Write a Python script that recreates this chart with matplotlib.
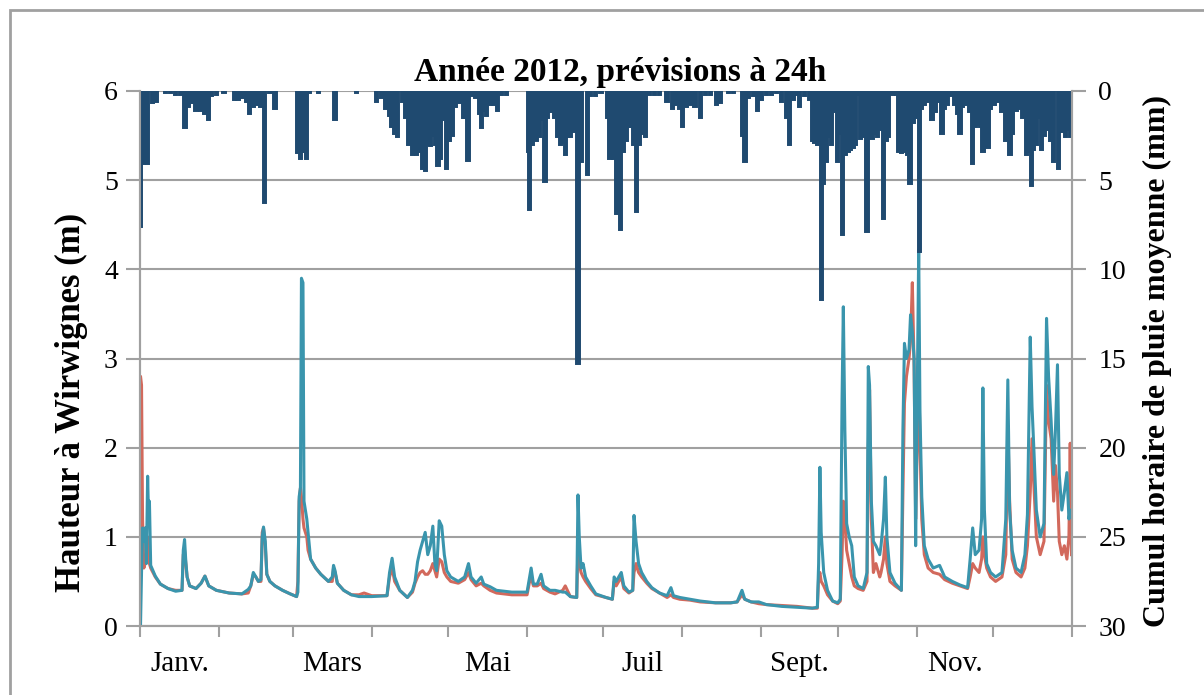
import matplotlib
matplotlib.use("Agg")
import matplotlib.pyplot as plt
from matplotlib.patches import Rectangle
import numpy as np

# day of year 2012 (0 = 1 Jan) and water level (m)
days = [0.0, 0.2, 0.6, 1.0, 1.5, 2.0, 2.5, 3.0, 3.3, 3.7, 4.2, 6.0, 8.0, 11.0, 14.0, 16.5,
        17.0, 17.5, 18.0, 18.5, 19.5, 22.0, 24.0, 25.5, 27.0, 30.0, 35.0, 40.0, 42.5, 43.5,
        44.5, 45.5, 46.5, 47.5, 48.0, 48.5, 49.2, 49.8, 51.0, 53.0, 56.0, 59.0, 61.5, 62.0,
        62.5, 63.0, 63.4, 64.0, 64.4, 65.5, 66.0, 67.0, 69.0, 71.0, 74.0, 75.5, 76.0, 76.6,
        77.5, 80.0, 83.0, 86.0, 88.0, 91.0, 97.0, 98.0, 99.0, 100.0, 102.0, 105.0, 107.0,
        108.0, 109.0, 110.0, 111.0, 112.0, 113.0, 114.0, 115.0, 115.8, 116.5, 117.5, 118.5,
        119.5, 120.5, 122.0, 125.0, 127.5, 129.0, 130.0, 132.0, 134.0, 135.0, 137.5, 140.0,
        146.0, 152.0, 153.0, 153.6, 154.5, 156.0, 157.5, 158.5, 161.0, 163.0, 166.0, 167.0,
        169.0, 171.5, 172.0, 172.5, 173.2, 174.0, 175.0, 177.0, 179.0, 183.0, 185.5, 186.2,
        187.0, 188.0, 189.0, 190.0, 192.0, 193.5, 194.0, 194.8, 195.8, 197.0, 199.0, 201.0,
        204.0, 207.0, 208.5, 209.5, 212.0, 216.0, 220.0, 226.0, 232.0, 234.5, 236.4, 237.5,
        240.0, 243.0, 246.0, 252.0, 258.0, 264.0, 266.0, 266.5, 267.0, 267.5, 268.5, 270.0,
        272.0, 274.0, 275.0, 275.7, 276.2, 276.8, 277.5, 278.5, 279.5, 280.5, 282.0, 284.0,
        285.5, 286.0, 286.5, 287.2, 288.0, 289.0, 290.5, 291.0, 292.0, 292.7, 293.3, 294.5,
        296.5, 299.0, 299.6, 300.2, 301.0, 302.0, 302.6, 303.3, 304.0, 304.6, 305.2, 305.8,
        306.3, 307.0, 308.0, 309.5, 311.5, 314.0, 316.0, 319.0, 322.0, 325.0, 326.0, 327.0,
        328.0, 329.5, 330.5, 331.0, 331.6, 332.5, 334.0, 336.0, 338.5, 340.0, 340.8, 341.5,
        342.5, 344.0, 346.0, 347.5, 348.5, 349.6, 350.3, 351.0, 352.0, 353.5, 355.0, 356.0,
        356.8, 357.8, 358.8, 359.5, 360.3, 361.0, 362.0, 363.0, 364.0, 364.8, 365.3, 365.8]

observed = [0.60, 2.80, 2.70, 1.20, 0.65, 0.70, 0.75, 1.00, 0.80, 0.70, 0.65, 0.55, 0.47, 0.42, 0.40, 0.40,
            0.80, 0.85, 0.70, 0.55, 0.45, 0.42, 0.48, 0.56, 0.45, 0.40, 0.37, 0.36, 0.37, 0.45,
            0.58, 0.55, 0.50, 0.50, 1.05, 1.10, 0.90, 0.58, 0.50, 0.45, 0.40, 0.36, 0.33, 0.50,
            1.40, 1.55, 1.45, 1.20, 1.10, 1.00, 0.85, 0.75, 0.65, 0.58, 0.50, 0.50, 0.65, 0.60,
            0.48, 0.40, 0.35, 0.35, 0.37, 0.34, 0.34, 0.55, 0.65, 0.50, 0.40, 0.32, 0.38,
            0.48, 0.55, 0.60, 0.62, 0.58, 0.58, 0.62, 0.70, 0.62, 0.55, 0.75, 0.72,
            0.60, 0.55, 0.50, 0.48, 0.52, 0.60, 0.52, 0.45, 0.48, 0.45, 0.40, 0.37,
            0.35, 0.35, 0.50, 0.55, 0.45, 0.45, 0.48, 0.42, 0.38, 0.36, 0.40, 0.45,
            0.33, 0.32, 0.90, 0.70, 0.60, 0.55, 0.50, 0.42, 0.35, 0.32, 0.30, 0.50,
            0.45, 0.50, 0.55, 0.42, 0.37, 0.40, 0.60, 0.70, 0.60, 0.55, 0.48, 0.42,
            0.37, 0.32, 0.35, 0.32, 0.30, 0.29, 0.27, 0.26, 0.26, 0.27, 0.35, 0.30,
            0.27, 0.25, 0.24, 0.23, 0.22, 0.20, 0.20, 0.55, 0.60, 0.50, 0.45, 0.35,
            0.28, 0.25, 0.28, 0.80, 1.40, 1.20, 0.85, 0.70, 0.55, 0.45, 0.42, 0.40,
            0.50, 2.00, 2.65, 1.20, 0.60, 0.70, 0.55, 0.60, 0.75, 1.00, 0.70, 0.50,
            0.45, 0.40, 1.50, 2.50, 2.80, 3.00, 3.20, 3.85, 2.90, 1.20, 2.00, 3.00,
            2.05, 1.20, 0.80, 0.65, 0.60, 0.58, 0.52, 0.48, 0.45, 0.42, 0.55, 0.70,
            0.65, 0.60, 0.75, 1.00, 0.80, 0.65, 0.55, 0.50, 0.55, 0.80, 2.25, 1.40,
            0.75, 0.60, 0.55, 0.65, 0.90, 1.50, 2.10, 1.60, 1.00, 0.80, 0.95, 2.70,
            2.30, 2.10, 1.40, 1.80, 1.50, 0.95, 0.80, 0.90, 0.75, 1.00, 2.05, 0.80]

forecast = [0.00, 0.00, 0.60, 1.10, 0.95, 1.10, 0.70, 1.68, 1.30, 1.40, 0.68, 0.56, 0.47, 0.42, 0.39, 0.40,
            0.85, 0.97, 0.72, 0.55, 0.45, 0.42, 0.48, 0.56, 0.45, 0.40, 0.37, 0.36, 0.41, 0.45,
            0.60, 0.55, 0.50, 0.52, 1.00, 1.11, 0.95, 0.58, 0.50, 0.45, 0.40, 0.36, 0.33, 0.38,
            1.45, 1.55, 3.90, 3.85, 1.40, 1.20, 1.05, 0.75, 0.65, 0.58, 0.50, 0.55, 0.68, 0.62,
            0.48, 0.40, 0.35, 0.33, 0.33, 0.33, 0.34, 0.60, 0.76, 0.55, 0.40, 0.32, 0.40,
            0.50, 0.72, 0.85, 0.95, 1.05, 0.80, 0.90, 1.12, 0.70, 0.62, 1.18, 1.12,
            0.80, 0.62, 0.55, 0.50, 0.55, 0.70, 0.55, 0.48, 0.55, 0.47, 0.44, 0.40,
            0.38, 0.38, 0.55, 0.65, 0.47, 0.47, 0.58, 0.45, 0.40, 0.40, 0.38, 0.38,
            0.33, 0.32, 1.47, 1.00, 0.65, 0.70, 0.55, 0.45, 0.36, 0.32, 0.30, 0.55,
            0.50, 0.55, 0.60, 0.45, 0.38, 0.40, 1.24, 0.95, 0.70, 0.60, 0.50, 0.43,
            0.37, 0.34, 0.43, 0.34, 0.32, 0.30, 0.28, 0.26, 0.26, 0.27, 0.40, 0.30,
            0.27, 0.27, 0.24, 0.22, 0.21, 0.20, 0.21, 0.70, 1.78, 1.05, 0.60, 0.40,
            0.28, 0.26, 0.30, 2.55, 3.58, 2.20, 1.15, 1.00, 0.90, 0.55, 0.45, 0.42,
            0.60, 2.91, 2.70, 1.40, 0.95, 0.90, 0.80, 0.90, 1.20, 1.67, 1.00, 0.60,
            0.48, 0.40, 2.20, 3.17, 3.00, 3.10, 3.49, 3.30, 3.00, 0.90, 2.50, 4.22,
            2.40, 1.45, 0.90, 0.75, 0.65, 0.68, 0.55, 0.50, 0.46, 0.43, 0.75, 1.10,
            0.80, 0.85, 1.20, 2.67, 1.30, 0.70, 0.60, 0.55, 0.60, 1.20, 2.76, 1.30,
            0.85, 0.65, 0.60, 0.80, 1.25, 3.24, 2.46, 2.00, 1.30, 1.00, 1.15, 3.45,
            2.80, 2.30, 1.70, 2.20, 2.93, 1.70, 1.30, 1.50, 1.72, 1.20, 1.30, 1.25]

# rain (mm)
rain_days = [0.3, 1.5, 3.0, 5.0, 6.5, 10, 12, 14, 16, 17.7, 19, 20, 22, 24, 25.5, 26.8, 28, 30, 33,
             37, 38.5, 40, 42, 43, 44.5, 46, 47.5, 49, 51, 53, 62, 63, 64, 65.5, 66.5, 70, 76.6,
             85, 93, 95, 96.5, 98, 99, 100, 101, 103, 104.5, 105.6, 107, 108.5, 110, 111, 112,
             113, 114, 115, 116, 117, 118, 119, 120.3, 121.5, 122.6, 124, 125.5, 127, 128, 128.8,
             130, 132, 133.2, 134, 135, 136, 137.5, 139, 140.5, 142, 144, 152.5, 153, 154, 155.5,
             157, 158, 159, 160, 161, 162, 163, 164, 165, 166, 167, 168, 169, 170, 171, 172,
             173.5, 175.6, 177, 179, 181, 183.5, 184.6, 186, 187, 188.6, 190, 191, 192, 193, 194,
             195, 196, 197, 198.5, 200, 202, 204, 207, 209, 210.5, 212, 213, 214.5, 216, 218, 220,
             222, 224, 226.5, 228, 231, 233, 236.5, 237.6, 239, 241, 242.5, 244, 246, 248, 250,
             252, 254, 255, 256.5, 258, 259, 261, 263, 264, 265, 266, 267.5, 268.5, 269.5, 270.5,
             271.5, 273, 274, 275, 276, 277, 278, 279, 280, 281, 282, 283, 284, 285.5, 286.5,
             287.5, 288.5, 289.5, 290.5, 292, 293, 294, 295.5, 297, 298, 299, 300, 301.5, 302.4,
             303.5, 304.5, 306, 307, 308, 309.5, 311, 312.5, 313.5, 315, 316, 317, 318.5, 320,
             321, 322, 323, 324.5, 326, 327, 328, 329, 330, 331, 332, 333, 334, 335.5, 337, 338.5,
             340, 341.7, 342.5, 344, 345.5, 346.5, 348, 349, 350, 351, 352, 353, 354, 355, 356,
             357.5, 358.7, 360.6, 361.5, 362.5, 363.5, 364.5, 365.5]
rain_mm = [7.6, 4.1, 4.1, 0.7, 0.6, 0.1, 0.1, 0.2, 0.2, 2.1, 0.9, 0.7, 1.1, 1.1, 1.3, 1.6, 0.3, 0.2, 0.1,
           0.5, 0.5, 0.4, 0.6, 1.3, 0.9, 0.8, 0.9, 6.3, 0.1, 1.0, 3.5, 3.8, 3.4, 3.8, 0.1, 0.1, 1.6,
           0.1, 0.6, 0.4, 1.0, 1.4, 2.0, 2.4, 2.6, 0.6, 1.5, 3.0, 3.6, 3.6, 3.4, 4.4, 4.5,
           3.0, 3.1, 2.5, 3.0, 4.2, 3.8, 1.6, 4.4, 2.8, 2.5, 0.9, 0.7, 1.5, 1.5, 3.9,
           0.3, 0.4, 1.3, 2.1, 1.1, 1.4, 0.8, 0.8, 1.1, 0.2, 0.2, 3.4, 6.7, 3.0, 2.8,
           2.6, 1.6, 5.1, 1.5, 1.2, 0.9, 1.5, 2.6, 3.0, 2.9, 3.6, 2.6, 2.6, 2.3, 1.0, 15.3,
           4.0, 4.7, 0.3, 0.3, 0.1, 1.5, 3.8, 3.8, 6.9, 7.8, 3.4, 2.8, 2.0, 2.0, 3.0,
           6.8, 3.0, 2.4, 2.6, 0.2, 0.2, 0.2, 0.6, 1.0, 0.8, 1.0, 2.0, 0.9, 0.8, 0.9, 1.5,
           0.2, 0.2, 0.8, 0.7, 0.1, 0.1, 2.5, 4.0, 0.4, 0.3, 1.1, 0.5, 0.2, 0.2, 0.1,
           0.6, 1.5, 3.0, 0.5, 0.2, 0.9, 0.3, 0.5, 2.8, 2.9, 3.0, 11.7, 5.2, 4.0, 2.6,
           3.0, 1.2, 4.0, 2.4, 8.1, 3.6, 3.4, 3.3, 3.2, 3.0, 0.2, 2.7, 2.6, 7.9, 2.5,
           2.7, 2.4, 2.6, 2.2, 7.2, 2.8, 2.6, 0.2, 0.2, 3.4, 3.5, 3.4, 3.6, 5.2,
           1.8, 1.5, 9.0, 1.0, 0.8, 0.6, 1.6, 1.2, 0.6, 2.4, 1.0, 0.8, 0.3, 0.8,
           1.3, 2.4, 0.9, 0.8, 1.2, 4.1, 2.0, 1.9, 2.0, 3.4, 2.6, 3.2, 1.0, 0.8, 0.6, 1.2,
           2.8, 3.6, 2.4, 1.1, 1.0, 1.5, 3.6, 3.4, 5.3, 3.3, 3.0, 1.5, 3.3, 2.5, 2.2,
           2.8, 4.0, 4.4, 2.2, 2.3, 2.6, 2.2, 2.6]

month_starts = [0, 31, 60, 91, 121, 152, 182, 213, 244, 274, 305, 335, 366]
month_labels = ["Janv.", "Mars", "Mai", "Juil", "Sept.", "Nov."]

plt.rcParams["font.family"] = ["Liberation Serif", "DejaVu Serif"]

fig = plt.figure(figsize=(12.04, 6.95), dpi=100)
ax = fig.add_axes([140 / 1204, 69 / 695, 932 / 1204, 535 / 695])
ax2 = ax.twinx()

grey = "#a0a0a0"
ax.plot(days, observed, color="#d2695c", lw=2.2, zorder=3)
ax.plot(days, forecast, color="#3a95ad", lw=2.2, zorder=4)
ax2.bar(rain_days, rain_mm, width=1.3, color="#1f4a70", edgecolor="#1f4a70", linewidth=1.4)

ax.set_xlim(0, 366)
ax.set_ylim(0, 6)
ax2.set_ylim(30, 0)
ax.set_yticks(range(0, 7))
ax2.set_yticks(range(0, 31, 5))
ax.yaxis.grid(True, color=grey, lw=1.5)
ax.set_axisbelow(True)

ax.set_xticks(month_starts)
ax.set_xticklabels([])
mids = [(month_starts[i] + month_starts[i + 1]) / 2 for i in range(0, 12, 2)]
ax.set_xticks(mids, minor=True)
ax.set_xticklabels(month_labels, minor=True)
ax.tick_params(axis="x", which="minor", length=0, pad=18, labelsize=21)
ax.tick_params(axis="x", which="major", length=8, width=1.5, color=grey)
ax.tick_params(axis="y", length=10, width=1.5, color=grey, labelsize=20, pad=6)
ax2.tick_params(axis="y", length=10, width=1.5, color=grey, labelsize=20, pad=9)

for a in (ax, ax2):
    a.spines["top"].set_visible(False)
    for s in ("left", "right", "bottom"):
        a.spines[s].set_color(grey)
        a.spines[s].set_linewidth(1.5)

ax.set_ylabel("Hauteur à Wirwignes (m)", fontsize=25, fontweight="bold")
ax.yaxis.set_label_coords(-0.056, 0.417)
ax2.set_ylabel("Cumul horaire de pluie moyenne (mm)", fontsize=23, fontweight="bold")
ax2.yaxis.set_label_coords(1.076, 0.495)

fig.text(620 / 1204, 1 - 72 / 695, "Année 2012, prévisions à 24h",
         fontsize=24, fontweight="bold", ha="center", va="center")

fig.patches.append(Rectangle((10 / 1204, -0.05), 1.1, 1 - 10 / 695 + 0.05,
                             transform=fig.transFigure, fill=False, edgecolor=grey, lw=2))

fig.savefig("out.png", dpi=100)
